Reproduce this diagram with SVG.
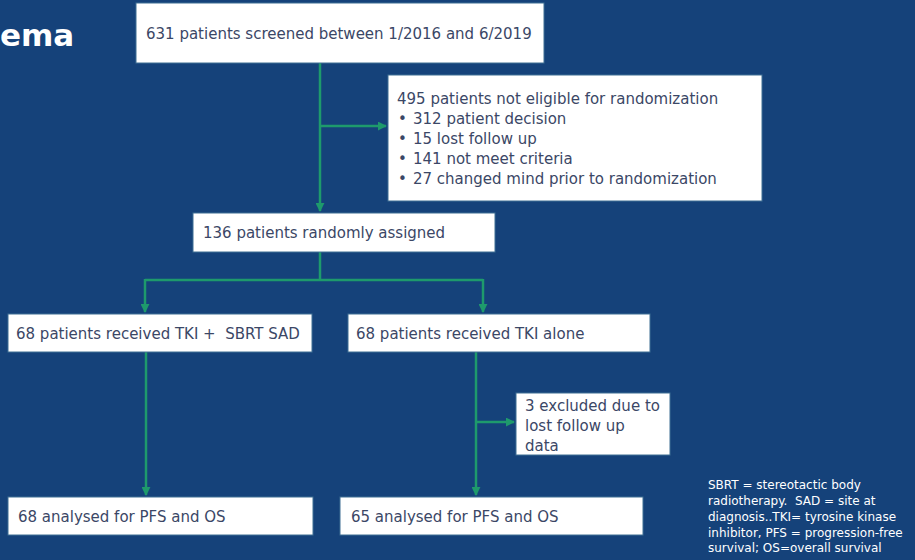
<svg xmlns="http://www.w3.org/2000/svg" width="915" height="560" viewBox="0 0 915 560">
  <defs>
    <style>
      .bg { fill: #15427a; }
      .box { fill: #ffffff; stroke: #3f6f93; stroke-width: 1; }
      .lbl { font-family: "DejaVu Sans", Verdana, sans-serif; font-size: 15px; fill: #3b4766; white-space: pre; }
      .link { fill: none; stroke: #1e9a6c; stroke-width: 2.5; }
      .note { font-family: "DejaVu Sans", Verdana, sans-serif; font-size: 12px; fill: #ffffff; white-space: pre; }
      .title { font-family: "DejaVu Sans", Verdana, sans-serif; font-size: 31px; font-weight: bold; fill: #ffffff; }
    </style>
    <marker id="arrow" viewBox="0 0 10 10" refX="9" refY="5" markerWidth="3.6" markerHeight="3.6" orient="auto">
      <path d="M0,0 L10,5 L0,10 z" fill="#1e9a6c"/>
    </marker>
  </defs>
  <rect class="bg" x="0" y="0" width="915" height="560"/>
  <text class="title" x="0" y="46">ema</text>

  <g id="connectors">
    <path class="link" d="M320,63 V211" marker-end="url(#arrow)"/>
    <path class="link" d="M320,126 H386" marker-end="url(#arrow)"/>
    <path class="link" d="M320,252 V280"/>
    <path class="link" d="M145,280 H483"/>
    <path class="link" d="M145,279 V312" marker-end="url(#arrow)"/>
    <path class="link" d="M483,279 V312" marker-end="url(#arrow)"/>
    <path class="link" d="M146,352 V495" marker-end="url(#arrow)"/>
    <path class="link" d="M476,352 V495" marker-end="url(#arrow)"/>
    <path class="link" d="M476,422 H514" marker-end="url(#arrow)"/>
  </g>

  <g id="screened">
    <rect class="box" x="136" y="3" width="408" height="60"/>
    <text class="lbl" x="146" y="39">631 patients screened between 1/2016 and 6/2019</text>
  </g>
  <g id="not-eligible">
    <rect class="box" x="388" y="75" width="374" height="126"/>
    <text class="lbl" x="397" y="104">495 patients not eligible for randomization</text>
    <text class="lbl" x="398" y="124">•</text><text class="lbl" x="413" y="124">312 patient decision</text>
    <text class="lbl" x="398" y="144">•</text><text class="lbl" x="413" y="144">15 lost follow up</text>
    <text class="lbl" x="398" y="164">•</text><text class="lbl" x="413" y="164">141 not meet criteria</text>
    <text class="lbl" x="398" y="184">•</text><text class="lbl" x="413" y="184">27 changed mind prior to randomization</text>
  </g>
  <g id="randomized">
    <rect class="box" x="193" y="213" width="302" height="39"/>
    <text class="lbl" x="203" y="238">136 patients randomly assigned</text>
  </g>
  <g id="tki-sbrt">
    <rect class="box" x="8" y="314" width="304" height="38"/>
    <text class="lbl" x="16" y="339" xml:space="preserve">68 patients received TKI +  SBRT SAD</text>
  </g>
  <g id="tki-alone">
    <rect class="box" x="348" y="314" width="302" height="38"/>
    <text class="lbl" x="356" y="339">68 patients received TKI alone</text>
  </g>
  <g id="excluded">
    <rect class="box" x="516" y="393" width="154" height="62"/>
    <text class="lbl" x="525" y="411">3 excluded due to</text>
    <text class="lbl" x="525" y="431">lost follow up</text>
    <text class="lbl" x="525" y="451">data</text>
  </g>
  <g id="analysed-sbrt">
    <rect class="box" x="8" y="497" width="305" height="38"/>
    <text class="lbl" x="18" y="522">68 analysed for PFS and OS</text>
  </g>
  <g id="analysed-alone">
    <rect class="box" x="340" y="497" width="303" height="38"/>
    <text class="lbl" x="351" y="522">65 analysed for PFS and OS</text>
  </g>

  <g id="footnote">
    <text class="note" x="708" y="489">SBRT = stereotactic body</text>
    <text class="note" x="708" y="505" xml:space="preserve">radiotherapy.  SAD = site at</text>
    <text class="note" x="708" y="521">diagnosis..TKI= tyrosine kinase</text>
    <text class="note" x="708" y="537">inhibitor, PFS = progression-free</text>
    <text class="note" x="708" y="552">survival; OS=overall survival</text>
  </g>
</svg>
